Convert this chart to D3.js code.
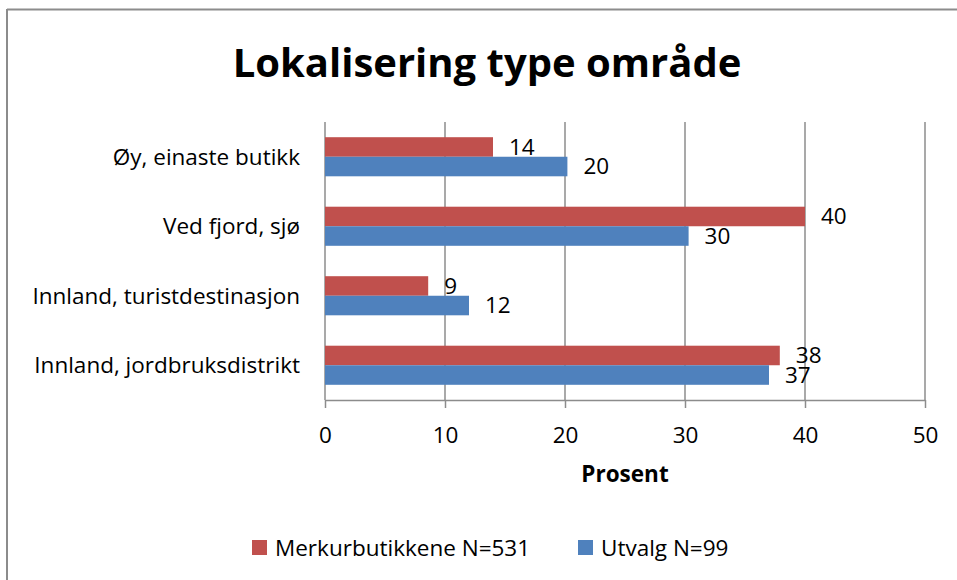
<!DOCTYPE html>
<html>
<head>
<meta charset="utf-8">
<script src="https://cdn.jsdelivr.net/npm/d3@7"></script>
<style>
  body { margin: 0; background: #fff; }
  svg text { font-family: "Open Sans", sans-serif; fill: #000; }
</style>
</head>
<body>
<div id="chart"></div>
<script>
// categories top to bottom
const categories = ["Øy, einaste butikk", "Ved fjord, sjø", "Innland, turistdestinasjon", "Innland, jordbruksdistrikt"];
const seriesNames = ["Merkurbutikkene N=531", "Utvalg N=99"];
const merkurValues = [14.0, 40.0, 8.6, 37.9];
const utvalgValues = [20.2, 30.3, 12.0, 37.0];
const xTicks = [0, 10, 20, 30, 40, 50];
const colors = ["#C0504D", "#4F81BD"];

const width = 957, height = 580;
const plot = { left: 325, right: 925, top: 122, bottom: 400 };
const fontSize = "22.5px";

const svg = d3.select("#chart").append("svg")
    .attr("width", width)
    .attr("height", height);

// chart frame (only top and left edges visible)
svg.append("line")
    .attr("x1", 7).attr("y1", 9.5).attr("x2", width).attr("y2", 9.5)
    .attr("stroke", "#8c8c8c").attr("stroke-width", 2);
svg.append("line")
    .attr("x1", 7).attr("y1", 9).attr("x2", 7).attr("y2", height)
    .attr("stroke", "#8c8c8c").attr("stroke-width", 2);

svg.append("text")
    .attr("x", 487)
    .attr("y", 77)
    .attr("text-anchor", "middle")
    .style("font-size", "40px")
    .style("font-weight", "bold")
    .text("Lokalisering type område");

let x = d3.scaleLinear().domain([0, 50]).range([plot.left, plot.right]);

let y = d3.scaleBand()
    .domain(categories)
    .range([plot.top, plot.bottom])
    .paddingInner(0.4375)
    .paddingOuter(0.21875);

let ySeries = d3.scaleBand()
    .domain(seriesNames)
    .range([0, y.bandwidth()]);

// gridlines
svg.append("g")
    .selectAll("line")
    .data(xTicks)
    .enter().append("line")
    .attr("x1", d => x(d)).attr("x2", d => x(d))
    .attr("y1", plot.top).attr("y2", plot.bottom)
    .attr("stroke", "#8c8c8c")
    .attr("stroke-width", 1.5);

// x axis
let xAxis = svg.append("g")
    .attr("transform", `translate(0,${plot.bottom})`)
    .call(d3.axisBottom(x).tickValues(xTicks).tickSize(8).tickSizeOuter(0).tickPadding(19));
xAxis.select(".domain").attr("stroke", "#8c8c8c").attr("stroke-width", 1.5);
xAxis.selectAll(".tick line").attr("stroke", "#8c8c8c").attr("stroke-width", 1.5);
xAxis.selectAll(".tick text")
    .style("font-size", fontSize)
    .style("font-family", "'Open Sans', sans-serif");

svg.append("text")
    .attr("x", (plot.left + plot.right) / 2)
    .attr("y", 482)
    .attr("text-anchor", "middle")
    .style("font-size", fontSize)
    .style("font-weight", "bold")
    .text("Prosent");

// category labels
svg.append("g")
    .selectAll("text")
    .data(categories)
    .enter().append("text")
    .attr("x", 300)
    .attr("y", d => y(d) + y.bandwidth() / 2)
    .attr("dy", "0.35em")
    .attr("text-anchor", "end")
    .style("font-size", fontSize)
    .text(d => d);

// bars
let rows = categories.map((c, i) => ({ category: c, values: [merkurValues[i], utvalgValues[i]] }));

let groups = svg.selectAll(".cat-group")
    .data(rows)
    .enter().append("g")
    .attr("class", "cat-group")
    .attr("transform", d => `translate(0,${y(d.category)})`);

groups.selectAll("rect")
    .data(d => d.values.map((v, k) => ({ series: seriesNames[k], value: v, k: k })))
    .enter().append("rect")
    .attr("x", x(0))
    .attr("y", d => ySeries(d.series))
    .attr("width", d => x(d.value) - x(0))
    .attr("height", ySeries.bandwidth())
    .attr("fill", d => colors[d.k]);

groups.selectAll(".bar-label")
    .data(d => d.values.map((v, k) => ({ series: seriesNames[k], value: v, k: k })))
    .enter().append("text")
    .attr("class", "bar-label")
    .attr("x", d => x(d.value) + 16)
    .attr("y", d => ySeries(d.series) + ySeries.bandwidth() / 2)
    .attr("dy", "0.35em")
    .style("font-size", fontSize)
    .text(d => d3.format(".0f")(d.value));

// legend
let legend = svg.append("g").attr("transform", "translate(252,540)");
let legendX = [0, 326];
seriesNames.forEach((name, i) => {
    legend.append("rect")
        .attr("x", legendX[i])
        .attr("y", 0)
        .attr("width", 15)
        .attr("height", 15)
        .attr("fill", colors[i]);
    legend.append("text")
        .attr("x", legendX[i] + 23)
        .attr("y", 8)
        .attr("dy", "0.35em")
        .style("font-size", fontSize)
        .text(name);
});
</script>
</body>
</html>
